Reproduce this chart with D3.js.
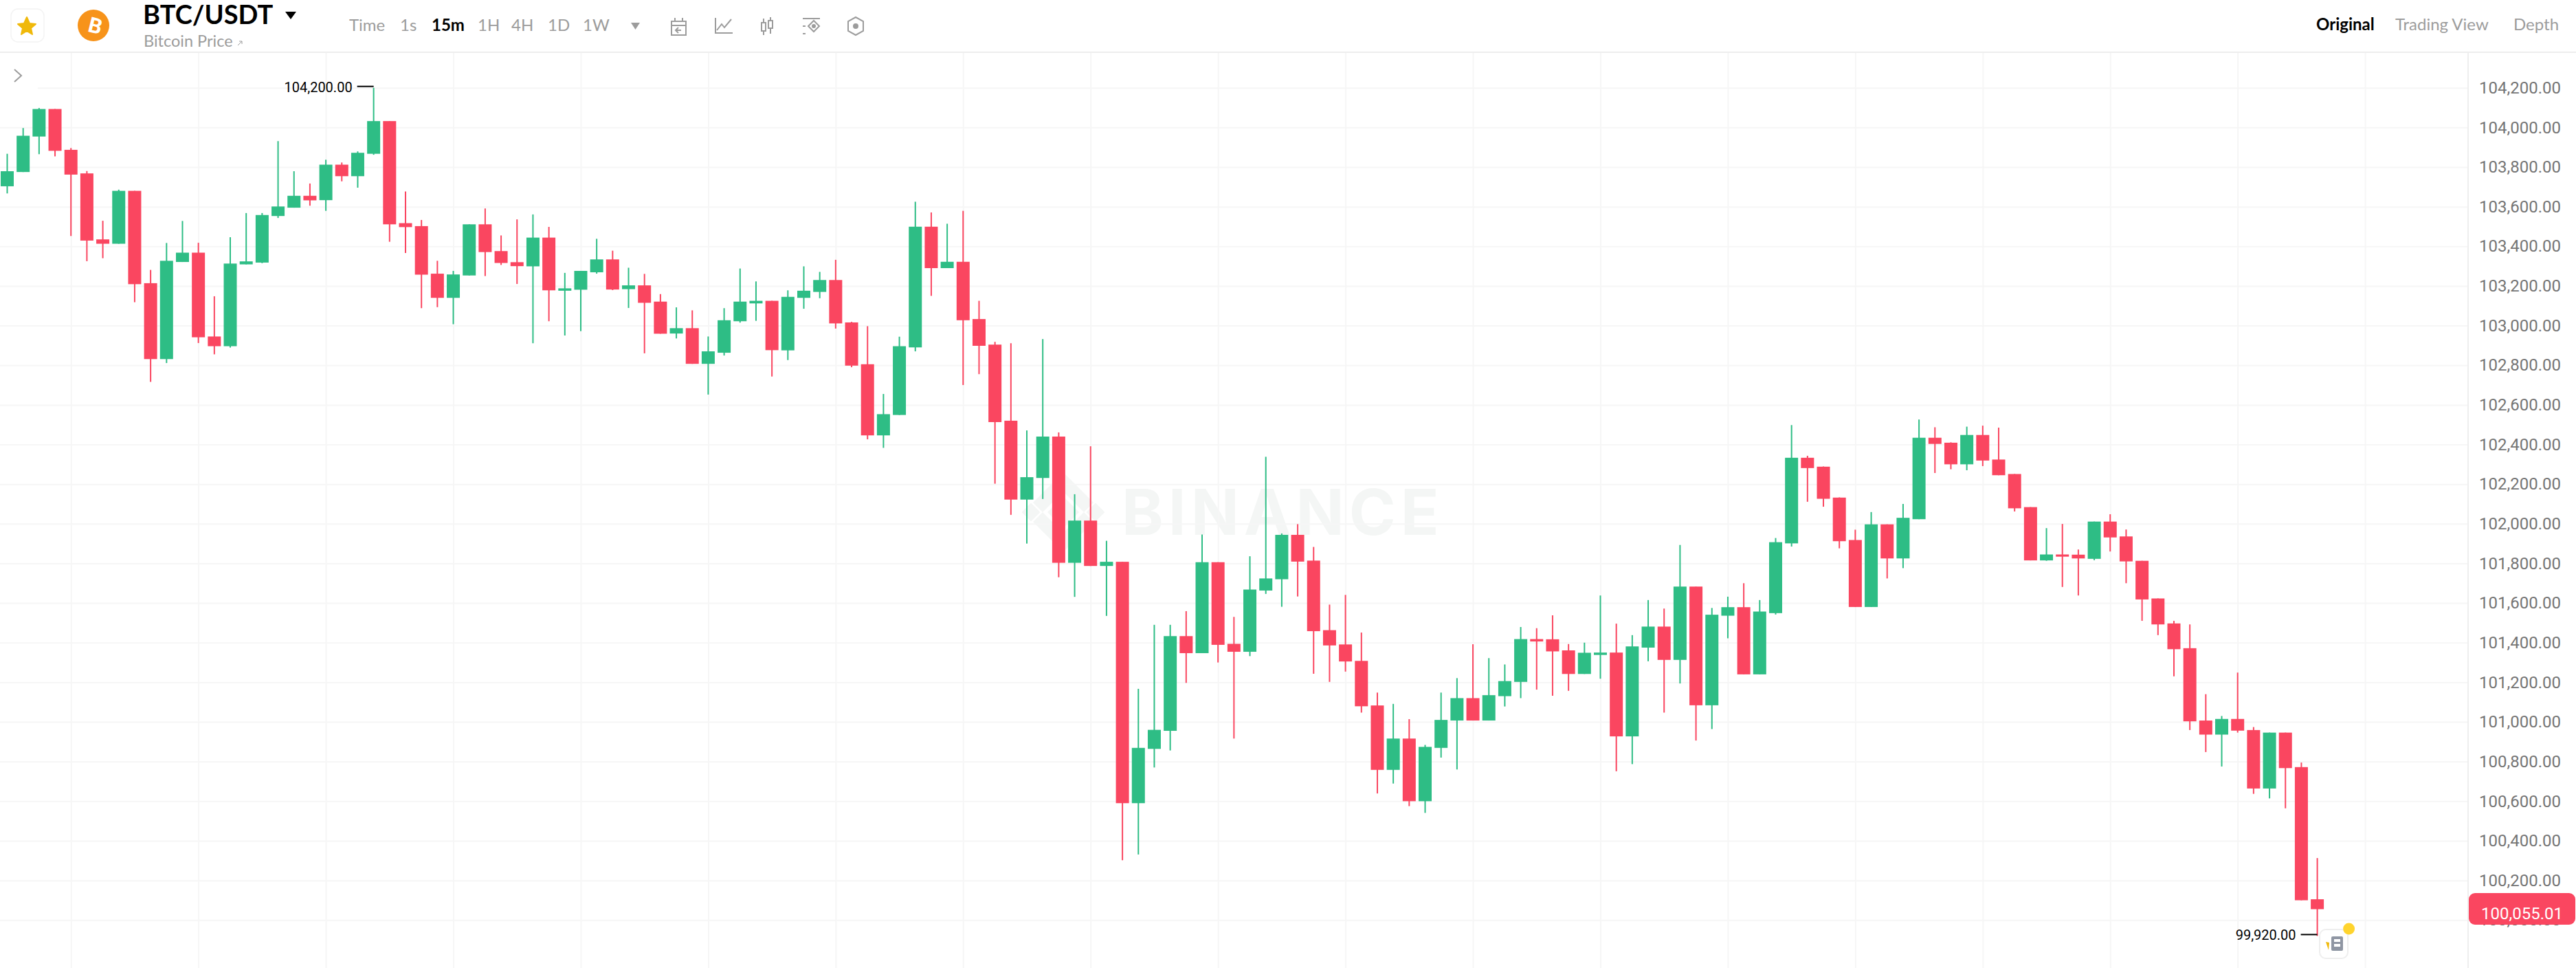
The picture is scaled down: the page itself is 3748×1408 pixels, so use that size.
<!DOCTYPE html>
<html>
<head>
<meta charset="utf-8">
<script src="https://cdn.jsdelivr.net/npm/d3@7"></script>
<style>
  html, body { margin: 0; padding: 0; background: #fff; overflow: hidden; }
  svg { display: block; }
</style>
</head>
<body>
<div id="chart"></div>
<script>
// candle values, one row per ten candles
var opens = [
  103703,103775,103954,104093,103887,103768,103435,103413,103680,103214,
  102831,103321,103368,102945,102896,103309,103318,103553,103595,103655,
  103633,103812,103754,103867,104032,103517,103502,103262,103140,103253,
  103511,103376,103320,103299,103444,103176,103181,103269,103334,103184,
  103203,103121,102960,102987,102807,102863,103022,103112,103125,102875,
  103140,103170,103230,103016,102805,102446,102549,102890,103499,103290,
  103322,103033,102904,102520,102122,102231,102440,101803,102016,101787,
  101808,100590,100864,100955,101433,101347,101806,101394,101354,101663,
  101720,101944,101814,101463,101391,101308,101083,100758,100916,100600,
  100869,101007,101120,101007,101130,101202,101418,101417,101361,101242,
  101338,101350,100927,101375,101481,101313,101683,101084,101536,101579,
  101240,101549,101901,102333,102288,102132,101918,101580,101997,101825,
  102023,102434,102409,102300,102448,102324,102251,102084,101815,101845,
  101844,101823,102011,101936,101813,101623,101497,101372,101007,100936,
  101015,100959,100664,100946,100772,100105
];
var closes = [
  103779,103958,104093,103882,103762,103429,103413,103680,103209,102831,
  103327,103368,102941,102896,103313,103324,103558,103601,103655,103632,
  103812,103754,103872,104032,103511,103497,103257,103140,103258,103511,
  103371,103316,103300,103444,103178,103188,103276,103334,103182,103203,
  103115,102959,102987,102807,102870,103027,103121,103125,102876,103145,
  103176,103230,103011,102798,102446,102553,102896,103499,103290,103322,
  103027,102898,102513,102122,102235,102440,101803,102016,101787,101808,
  100590,100869,100960,101433,101347,101806,101389,101354,101668,101724,
  101944,101809,101458,101386,101305,101079,100758,100916,100600,100874,
  101010,101120,101007,101135,101206,101418,101406,101356,101242,101349,
  101350,100927,101381,101481,101313,101683,101084,101541,101579,101240,
  101557,101907,102333,102281,102126,101912,101580,101997,101825,102030,
  102434,102403,102300,102448,102319,102245,102078,101815,101845,101834,
  101825,102011,101931,101810,101618,101492,101367,101003,100936,101015,
  100956,100664,100946,100767,100100,100055
];
var highs = [
  103867,103997,104098,104093,103896,103780,103529,103686,103680,103281,
  103417,103528,103418,103148,103446,103568,103568,103931,103779,103717,
  103837,103823,103879,104200,104032,103677,103533,103327,103276,103511,
  103591,103455,103536,103561,103498,103266,103276,103438,103378,103292,
  103261,103159,103092,103077,102945,103088,103288,103223,103125,103178,
  103299,103271,103332,103019,102997,102655,102944,103625,103571,103514,
  103579,103125,102918,102911,102471,102932,102461,102149,102391,101914,
  101808,101167,101490,101490,101559,101946,101806,101530,101836,102338,
  101951,101998,101883,101592,101641,101451,101148,101091,101014,100884,
  101148,101221,101392,101322,101290,101479,101473,101538,101393,101400,
  101638,101496,101438,101615,101572,101893,101683,101575,101632,101700,
  101615,101928,102498,102343,102289,102133,101970,102059,101997,102100,
  102526,102487,102411,102490,102495,102485,102251,102084,101978,101999,
  101870,102011,102048,101971,101813,101623,101510,101492,101140,101030,
  101249,100974,100946,100946,100795,100313
];
var lows = [
  103667,103775,103865,103854,103452,103325,103340,103413,103118,102716,
  102811,103321,102912,102855,102889,103309,103315,103543,103595,103605,
  103579,103728,103696,103862,103423,103366,103088,103093,103007,103253,
  103250,103306,103210,102911,103022,102950,102972,103262,103179,103089,
  102860,102959,102935,102807,102652,102849,103015,103024,102743,102826,
  103085,103138,102985,102790,102426,102383,102549,102870,103150,103290,
  102700,102755,102202,102045,101900,102125,101730,101631,101787,101535,
  100302,100331,100770,100856,101197,101347,101300,100916,101332,101646,
  101581,101633,101243,101202,101254,101047,100639,100689,100575,100541,
  100820,100760,101007,101007,101078,101120,101163,101132,101157,101242,
  101218,100751,100787,101306,101047,101194,100906,100964,101422,101240,
  101240,101542,101885,102111,102086,101876,101580,101580,101724,101776,
  102023,102256,102275,102270,102291,102245,102062,101815,101813,101681,
  101638,101816,101860,101700,101510,101438,101230,100959,100848,100775,
  100946,100637,100614,100564,100100,99920
];
var priceTicks = [104200,104000,103800,103600,103400,103200,103000,102800,102600,102400,102200,
  102000,101800,101600,101400,101200,101000,100800,100600,100400,100200,100000];
var gridCandles = [4,12,20,28,36,44,52,60,68,76,84,92,100,108,116,124,132,140,148];
var lastPrice = 100055.01;
var highMark = 104200;
var lowMark = 99920;
var timeframes = ["Time","1s","15m","1H","4H","1D","1W"];
var timeframeX = [508,582,628,695,744,797,848];
var viewTabs = ["Original","Trading View","Depth"];
var viewTabX = [3370,3485,3657];

var width = 3748, height = 1408;
var plotRight = 3590, headerBottom = 77;
var uiFont = "Lato, Roboto, sans-serif";
var green = "#2ebd85", red = "#fa4660";
var grid = "#f6f6f6";
var gray = "#9c9c9c";

var svg = d3.select("#chart").append("svg")
  .attr("width", width)
  .attr("height", height)
  .style("font-family", uiFont);

var x = d3.scaleLinear().domain([0, 145]).range([10.5, 3371.6]);
var y = d3.scaleLinear().domain([104200, 100000]).range([127.7, 1338.3]);

// watermark sits under the grid
var mark = svg.append("g").attr("fill", "#f4f6f5");
mark.append("text")
  .attr("x", 1632).attr("y", 778)
  .attr("font-family", "Inter, sans-serif")
  .attr("font-weight", 700)
  .attr("font-size", 92)
  .attr("letter-spacing", 7)
  .text("BINANCE");
var logo = mark.append("g").attr("transform", "translate(1547,745)");
logo.append("path").attr("d", "M0,-23L23,0L0,23L-23,0Z");
logo.append("path").attr("d", "M-47,-13.5L-33.5,0L-47,13.5L-60.5,0Z");
logo.append("path").attr("d", "M47,-13.5L60.5,0L47,13.5L33.5,0Z");
logo.append("path").attr("d", "M0,-58L44,-14L30,0L0,-30L-30,0L-44,-14Z");
logo.append("path").attr("d", "M0,58L44,14L30,0L0,30L-30,0L-44,14Z");

// grid lines, drawn with the axes
var hGrid = svg.append("g")
  .attr("transform", "translate(" + plotRight + ",0)")
  .call(d3.axisLeft(y).tickValues(priceTicks).tickSize(plotRight).tickFormat(""));
hGrid.select(".domain").remove();
hGrid.selectAll("line").attr("stroke", grid).attr("stroke-width", 2);
hGrid.selectAll("text").remove();

var vGrid = svg.append("g")
  .attr("transform", "translate(0," + headerBottom + ")")
  .call(d3.axisBottom(x).tickValues(gridCandles).tickSize(height - headerBottom).tickFormat(""));
vGrid.select(".domain").remove();
vGrid.selectAll("line").attr("stroke", grid).attr("stroke-width", 2);
vGrid.selectAll("text").remove();

// candles
var candles = d3.range(opens.length);
var bodyWidth = 19;
function candleColor(i) { return closes[i] >= opens[i] ? green : red; }

svg.append("g").selectAll("line")
  .data(candles)
  .enter()
  .append("line")
  .attr("x1", d => x(d))
  .attr("x2", d => x(d))
  .attr("y1", d => y(highs[d]))
  .attr("y2", d => y(lows[d]))
  .attr("stroke", candleColor)
  .attr("stroke-width", 2);

svg.append("g").selectAll("rect")
  .data(candles)
  .enter()
  .append("rect")
  .attr("x", d => x(d) - bodyWidth / 2)
  .attr("width", bodyWidth)
  .attr("y", d => y(Math.max(opens[d], closes[d])))
  .attr("height", d => Math.max(3, Math.abs(y(opens[d]) - y(closes[d]))))
  .attr("fill", candleColor);

// high / low markers
var fmt = d3.format(",.2f");
var hiIdx = highs.indexOf(highMark), loIdx = lows.indexOf(lowMark);
[[hiIdx, highMark, -2], [loIdx, lowMark, -2]].forEach(function(m) {
  var px = x(m[0]), py = y(m[1]) + m[2];
  svg.append("line")
    .attr("x1", px - 24).attr("x2", px)
    .attr("y1", py).attr("y2", py)
    .attr("stroke", "#000").attr("stroke-width", 2);
  svg.append("text")
    .attr("x", px - 31).attr("y", py + 8)
    .attr("text-anchor", "end")
    .attr("font-family", "Roboto, sans-serif")
    .attr("font-size", 20)
    .attr("fill", "#000")
    .text(fmt(m[1]));
});

// news badge by the last candle
var badge = svg.append("g");
badge.append("rect").attr("x", 3375).attr("y", 1352).attr("width", 41).attr("height", 42).attr("rx", 9)
  .attr("fill", "#fff").attr("stroke", "#eeeeee").attr("stroke-width", 2);
badge.append("path").attr("d", "M3384,1370L3389,1371L3388,1382Z").attr("fill", "#f0b90b");
badge.append("rect").attr("x", 3392).attr("y", 1362).attr("width", 17).attr("height", 21).attr("rx", 2).attr("fill", "#8f96a3");
badge.append("rect").attr("x", 3396).attr("y", 1366).attr("width", 9).attr("height", 4).attr("fill", "#fff");
badge.append("rect").attr("x", 3396).attr("y", 1373).attr("width", 9).attr("height", 4).attr("fill", "#fff");
badge.append("circle").attr("cx", 3417.6).attr("cy", 1351).attr("r", 8.5).attr("fill", "#ffd42e");

// right price axis
svg.append("rect").attr("x", plotRight).attr("y", headerBottom).attr("width", width - plotRight).attr("height", height - headerBottom).attr("fill", "#fff");
svg.append("line")
  .attr("x1", plotRight + 1).attr("x2", plotRight + 1)
  .attr("y1", headerBottom).attr("y2", height)
  .attr("stroke", "#eeeeee").attr("stroke-width", 2);
var yAxis = svg.append("g")
  .attr("transform", "translate(" + (plotRight + 17) + ",0)")
  .call(d3.axisRight(y).tickValues(priceTicks).tickSize(0).tickPadding(0).tickFormat(fmt));
yAxis.select(".domain").remove();
yAxis.selectAll("text")
  .attr("font-family", "Roboto, sans-serif")
  .attr("font-size", 24)
  .attr("fill", "#757575");

// last price tag
svg.append("rect").attr("x", 3592).attr("y", 1299).attr("width", 155).attr("height", 46).attr("rx", 9).attr("fill", red);
svg.append("text")
  .attr("x", 3669.5).attr("y", 1337)
  .attr("text-anchor", "middle")
  .attr("font-family", "Roboto, sans-serif")
  .attr("font-size", 24)
  .attr("fill", "#fff")
  .text(fmt(lastPrice));

// header
svg.append("line")
  .attr("x1", 0).attr("x2", width)
  .attr("y1", headerBottom - 1).attr("y2", headerBottom - 1)
  .attr("stroke", "#eeeeee").attr("stroke-width", 2);

svg.append("rect").attr("x", 16).attr("y", 13).attr("width", 48).attr("height", 48).attr("rx", 10)
  .attr("fill", "#fff").attr("stroke", "#f3f3f3").attr("stroke-width", 1.5);
svg.append("path")
  .attr("d", "M39,25L43,34L52,35L45,41L47,50L39,45L31,50L33,41L26,35L35,34Z")
  .attr("fill", "#f0b90b")
  .attr("stroke", "#f0b90b").attr("stroke-width", 2).attr("stroke-linejoin", "round");

svg.append("circle").attr("cx", 136).attr("cy", 37).attr("r", 23).attr("fill", "#f7931a");
svg.append("text")
  .attr("transform", "translate(136,48) rotate(14)")
  .attr("text-anchor", "middle")
  .attr("font-family", "Roboto, sans-serif")
  .attr("font-weight", 700)
  .attr("font-size", 31)
  .attr("fill", "#fff")
  .text("B");

svg.append("text").attr("x", 208).attr("y", 35)
  .attr("font-size", 38).attr("font-weight", 700).attr("fill", "#000")
  .text("BTC/USDT");
svg.append("path").attr("d", "M415,17L431,17L423,28Z").attr("fill", "#000");
svg.append("text").attr("x", 209).attr("y", 68)
  .attr("font-size", 23.5).attr("fill", gray)
  .text("Bitcoin Price");
svg.append("path").attr("d", "M346,66L352,60M348,60L352,60L352,64")
  .attr("fill", "none").attr("stroke", gray).attr("stroke-width", 1);

svg.append("g").selectAll("text")
  .data(timeframes)
  .enter()
  .append("text")
  .attr("x", (d, i) => timeframeX[i])
  .attr("y", 45)
  .attr("font-size", 24)
  .attr("font-weight", d => d == "15m" ? 700 : 400)
  .attr("fill", d => d == "15m" ? "#000" : gray)
  .text(d => d);
svg.append("path").attr("d", "M918,33L931,33L924.5,43Z").attr("fill", gray);

// toolbar icons
var icons = svg.append("g").attr("fill", "none").attr("stroke", gray).attr("stroke-width", 2);
icons.append("path").attr("d", "M977,31H998V51H977ZM977,37H998M982,26V31M993,26V31M991,44H984M987,40L983,44L987,48");
icons.append("path").attr("d", "M1041,26V48H1066M1043,44L1050,35L1054,40L1064,28");
icons.append("path").attr("d", "M1108,33H1114V45H1108ZM1118,30H1124V41H1118ZM1111,27V33M1111,45V51M1121,25V30M1121,41V49");
icons.append("path").attr("d", "M1168,27H1193M1168,38H1172M1168,49H1172M1184,30L1192,38L1184,46L1176,38Z");
icons.append("circle").attr("cx", 1184).attr("cy", 38).attr("r", 2).attr("fill", gray);
icons.append("path").attr("d", "M1245,25L1256,31V45L1245,51L1234,45V31Z");
icons.append("circle").attr("cx", 1245).attr("cy", 38).attr("r", 3).attr("fill", gray);

svg.append("g").selectAll("text")
  .data(viewTabs)
  .enter()
  .append("text")
  .attr("x", (d, i) => viewTabX[i])
  .attr("y", 44)
  .attr("font-size", 24)
  .attr("font-weight", d => d == "Original" ? 700 : 400)
  .attr("fill", d => d == "Original" ? "#000" : gray)
  .text(d => d);

// collapse chevron, its panel hides the start of the top grid line
svg.append("rect").attr("x", 0).attr("y", 80).attr("width", 55).attr("height", 50).attr("fill", "#fff");
svg.append("path").attr("d", "M21,101L31,110L21,119").attr("fill", "none").attr("stroke", gray).attr("stroke-width", 2);
</script>
</body>
</html>
